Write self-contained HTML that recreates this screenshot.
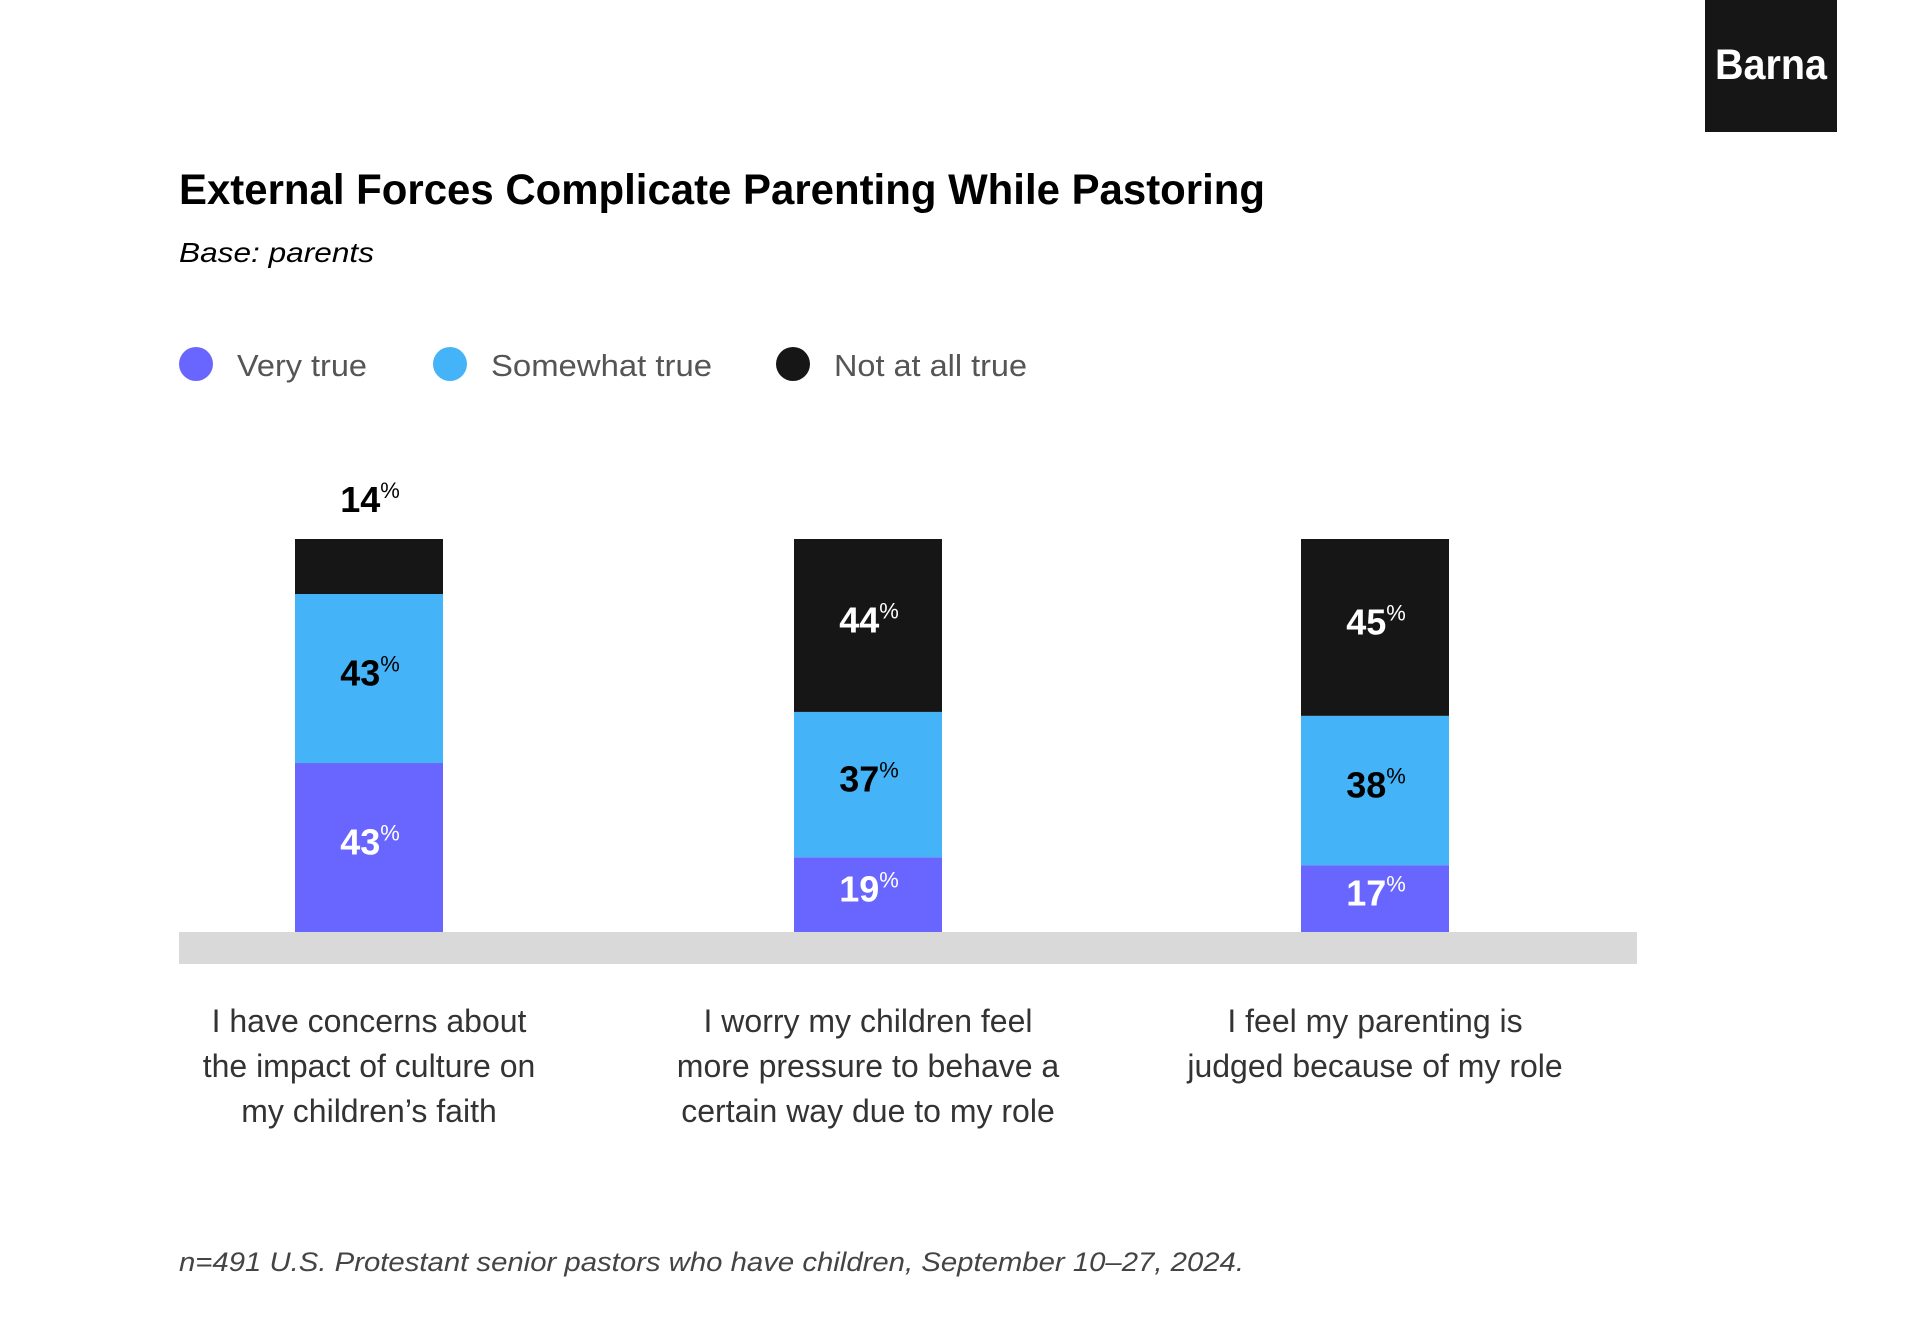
<!DOCTYPE html>
<html><head><meta charset="utf-8">
<style>
html,body{margin:0;padding:0;background:#fff;}
svg{display:block;font-family:"Liberation Sans",sans-serif;}
</style></head>
<body>
<svg id="chart" width="1911" height="1342" viewBox="0 0 1911 1342" xmlns="http://www.w3.org/2000/svg">
  <rect x="1705" y="0" width="132" height="132" fill="#161616"/>
  <text x="1715" y="79" font-size="43" font-weight="bold" fill="#fff" textLength="112" lengthAdjust="spacingAndGlyphs">Barna</text>
  <text x="179" y="204" font-size="43" font-weight="bold" fill="#000" textLength="1086" lengthAdjust="spacingAndGlyphs">External Forces Complicate Parenting While Pastoring</text>
  <text x="179" y="262" font-size="28" font-style="italic" fill="#000" textLength="195" lengthAdjust="spacingAndGlyphs">Base: parents</text>
  <g id="legend"></g>
  <rect x="179" y="932" width="1458" height="32" fill="#d9d9d9"/>
  <g id="bars"></g>
  <g id="cats"></g>
  <text x="179" y="1271" font-size="27" font-style="italic" fill="#444" textLength="1065" lengthAdjust="spacingAndGlyphs">n=491 U.S. Protestant senior pastors who have children, September 10–27, 2024.</text>
</svg>
<script>
const categories = [
  ["I have concerns about","the impact of culture on","my children’s faith"],
  ["I worry my children feel","more pressure to behave a","certain way due to my role"],
  ["I feel my parenting is","judged because of my role"]
];
const veryTrue = [43, 19, 17];
const somewhatTrue = [43, 37, 38];
const notAtAll = [14, 44, 45];
const seriesNames = ["Very true","Somewhat true","Not at all true"];

const NS = "http://www.w3.org/2000/svg";
const colors = ["#6966ff","#45b3f7","#161616"];
const labelColors = ["#fff","#000","#fff"];
const barX = [295, 794, 1301];
const barW = 148;
const baseY = 932;
const pxPerPct = 3.93;
function y(v){ return baseY - v * pxPerPct; }

function mk(tag, attrs, parent){
  const el = document.createElementNS(NS, tag);
  for (const k in attrs) el.setAttribute(k, attrs[k]);
  parent.appendChild(el);
  return el;
}

const legend = document.getElementById('legend');
const legX = [196, 450, 793];
const legW = [130, 221, 193];
seriesNames.forEach((n, i) => {
  const c = mk('circle', {cx: legX[i], cy: 364, r: 17, fill: colors[i]}, legend);
  
  
  const t = mk('text', {x: legX[i] + 41, y: 376, 'font-size': 31, fill: '#555', textLength: legW[i], lengthAdjust: 'spacingAndGlyphs'}, legend);
  
  
  t.textContent = n;
});

const bars = document.getElementById('bars');
function label(x, cy, v, color){
  const t = mk('text', {x: x, y: cy + 13, 'font-size': 36, 'font-weight': 'bold', fill: color, 'text-anchor': 'middle'}, bars);
  
  
  const a = document.createElementNS(NS, 'tspan');
  a.textContent = v;
  t.appendChild(a);
  const b = document.createElementNS(NS, 'tspan');
  b.setAttribute('font-size', '22');
  b.setAttribute('font-weight', 'normal');
  b.setAttribute('dy', '-14');
  b.textContent = '%';
  t.appendChild(b);
}
categories.forEach((cat, i) => {
  const vals = [veryTrue[i], somewhatTrue[i], notAtAll[i]];
  let acc = 0;
  vals.forEach((v, s) => {
    const y0 = y(acc), y1 = y(acc + v);
    const r = mk('rect', {x: barX[i], y: y1, width: barW, height: y0 - y1, fill: colors[s]}, bars);
    
    
    const cx = barX[i] + barW / 2 + 1;
    if (y0 - y1 < 60 && s === 2) label(cx, y1 - 40, v, '#000');
    else label(cx, (y0 + y1) / 2 - 6, v, labelColors[s]);
    acc += v;
  });
});

const cats = document.getElementById('cats');
categories.forEach((lines, i) => {
  lines.forEach((ln, j) => {
    const t = mk('text', {x: barX[i] + barW / 2, y: 1032 + j * 45, 'font-size': 32, fill: '#333', 'text-anchor': 'middle'}, cats);
    
    
    t.textContent = ln;
  });
});
</script>
</body></html>
